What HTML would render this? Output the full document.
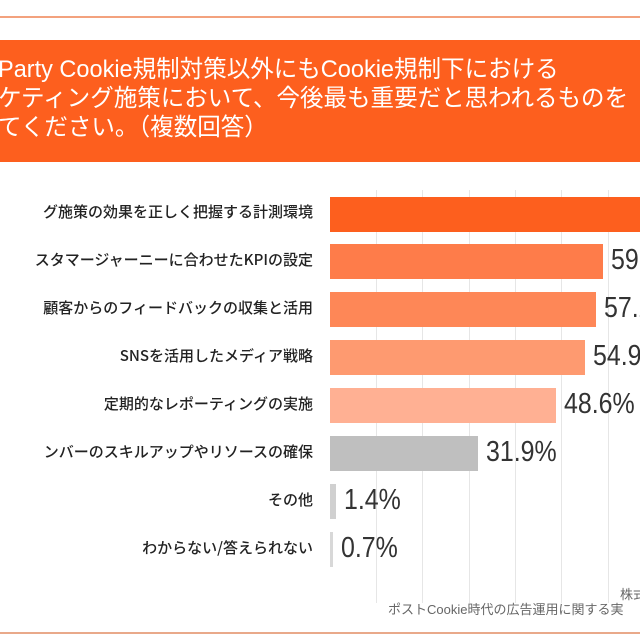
<!DOCTYPE html>
<html><head><meta charset="utf-8"><style>
html,body{margin:0;width:640px;height:639px;overflow:hidden;}
#w{position:relative;width:640px;height:639px;overflow:hidden;background:#fff;font-family:"Liberation Sans","Noto Sans CJK JP",sans-serif;}
.abs{position:absolute;}
.hdr{left:0;top:40px;width:640px;height:122px;background:#FD5F1E;}
.ht{color:#fff;font-size:24px;line-height:29px;white-space:nowrap;left:-2px;top:55px;transform:scaleX(0.98);transform-origin:left;}
.lab{right:327px;font-size:15px;color:#222;white-space:nowrap;text-align:right;font-family:"Noto Sans CJK JP",sans-serif;font-weight:500;}
.bar{left:330px;height:35px;}
.val{font-size:29px;color:#333;white-space:nowrap;transform:scaleX(0.86);transform-origin:left;}
.grid{top:190px;width:1px;height:413px;background:#e6e6e6;}
</style></head><body><div id="w">
<div class="abs" style="left:0;top:16px;width:640px;height:2px;background:#F3A27E"></div>
<div class="abs hdr"></div>
<div class="abs ht">Party Cookie規制対策以外にもCookie規制下における<br>ケティング施策において、今後最も重要だと思われるものを<br>てください。（複数回答）</div>
<div class="abs grid" style="left:376px"></div>
<div class="abs grid" style="left:422px"></div>
<div class="abs grid" style="left:469px"></div>
<div class="abs grid" style="left:515px"></div>
<div class="abs grid" style="left:561px"></div>
<div class="abs grid" style="left:608px"></div>

<div class="abs bar" style="top:197px;width:310px;background:#FD5F1E"></div>
<div class="abs bar" style="top:244px;width:273px;background:#FE7C4A"></div>
<div class="abs bar" style="top:292px;width:266px;background:#FE8757"></div>
<div class="abs bar" style="top:340px;width:255px;background:#FE9A70"></div>
<div class="abs bar" style="top:388px;width:226px;background:#FFB093"></div>
<div class="abs bar" style="top:436px;width:148px;background:#BFBFBF"></div>
<div class="abs bar" style="top:484px;width:6px;background:#D0D0D0"></div>
<div class="abs bar" style="top:532px;width:3px;background:#D8D8D8"></div>

<div class="abs lab" style="top:201px">グ施策の効果を正しく把握する計測環境</div>
<div class="abs lab" style="top:249px">スタマージャーニーに合わせたKPIの設定</div>
<div class="abs lab" style="top:297px">顧客からのフィードバックの収集と活用</div>
<div class="abs lab" style="top:345px">SNSを活用したメディア戦略</div>
<div class="abs lab" style="top:393px">定期的なレポーティングの実施</div>
<div class="abs lab" style="top:441px">ンバーのスキルアップやリソースの確保</div>
<div class="abs lab" style="top:489px">その他</div>
<div class="abs lab" style="top:537px">わからない/答えられない</div>

<div class="abs val" style="left:611px;top:244px">59.0%</div>
<div class="abs val" style="left:604px;top:292px">57.2%</div>
<div class="abs val" style="left:593px;top:340px">54.9%</div>
<div class="abs val" style="left:564px;top:388px">48.6%</div>
<div class="abs val" style="left:486px;top:436px">31.9%</div>
<div class="abs val" style="left:344px;top:484px">1.4%</div>
<div class="abs val" style="left:341px;top:532px">0.7%</div>

<div class="abs" style="left:620px;top:584px;font-size:13px;color:#666;white-space:nowrap">株式</div>
<div class="abs" style="left:388px;top:599px;font-size:13px;color:#666;white-space:nowrap">ポストCookie時代の広告運用に関する実</div>
<div class="abs" style="left:0;top:632px;width:640px;height:2px;background:#E9A98A"></div>
</div></body></html>
